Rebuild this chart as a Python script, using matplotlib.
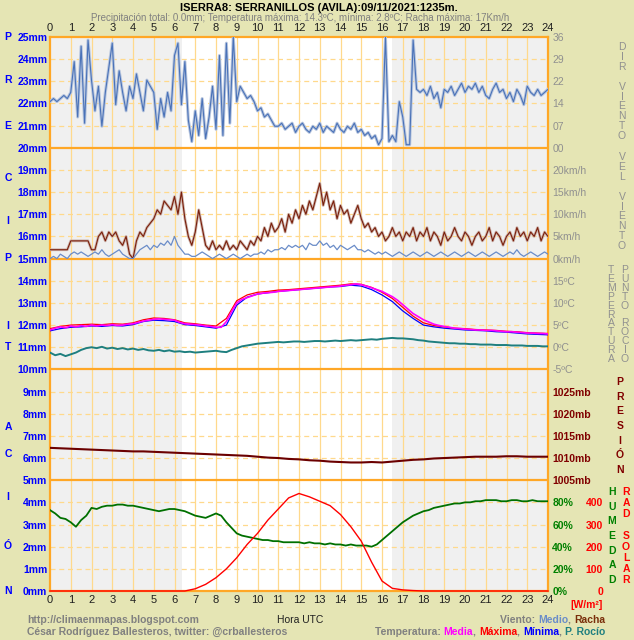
import numpy as np
import matplotlib
matplotlib.use("Agg")
import matplotlib.pyplot as plt
from matplotlib.offsetbox import TextArea, HPacker, AnnotationBbox

plt.rcParams['font.family'] = ['Liberation Sans', 'DejaVu Sans']

##############################
# data
##############################
title = "ISERRA8: SERRANILLOS (AVILA):09/11/2021:1235m."
subtitle = ("Precipitación total: 0.0mm; Temperatura máxima: 14.3ºC, "
            "mínima: 2.8ºC; Racha máxima: 17Km/h")

sunrise, sunset = 6.35, 16.5

hours_10 = np.arange(145) / 6.0   # 10 min steps
hours_15 = np.arange(97) / 4.0    # 15 min steps
hours_30 = np.arange(49) / 2.0    # 30 min steps

# wind direction (tens of degrees, 0-36), 10 min
wind_dir = [15, 16, 15, 16, 17, 16,
            18, 28, 10, 33, 8, 35,
            22, 12, 20, 7, 18, 26,
            34, 14, 25, 18, 12, 20,
            16, 24, 18, 12, 22, 20,
            18, 6, 16, 10, 18, 12,
            30, 34, 14, 28, 9, 2,
            12, 4, 16, 3, 10, 20,
            6, 30, 4, 34, 8, 36,
            15, 20, 18, 16, 17, 15,
            12, 13, 10, 11, 9, 7,
            7, 8, 6, 7, 8, 5,
            7, 8, 6, 5, 7, 6,
            8, 5, 7, 6, 5, 8,
            6, 5, 7, 6, 8, 5,
            6, 4, 5, 3, 4, 1,
            3, 36, 2, 4, 2, 15,
            10, 1, 1, 35, 19, 18,
            19, 17, 20, 16, 18, 13,
            19, 18, 20, 17, 19, 21,
            18, 20, 19, 21, 18, 20,
            17, 16, 19, 21, 18, 19,
            16, 18, 15, 19, 17, 14,
            20, 18, 17, 19, 17, 18,
            19]

# wind gust and mean speed (km/h), 10 min
wind_gust = [2, 2, 2, 2, 2, 2,
             4, 4, 4, 4, 4, 4,
             2, 2, 5, 6, 4, 6,
             5, 6, 4, 3, 5, 1,
             0, 4, 6, 5, 7, 8,
             9, 11, 10, 13, 12, 11,
             14, 10, 15, 9, 5, 3,
             6, 11, 7, 3, 2, 4,
             2, 3, 2, 4, 2, 3,
             2, 4, 3, 2, 4, 3,
             5, 4, 7, 5, 8, 6,
             7, 9, 6, 10, 8, 11,
             9, 12, 10, 13, 11, 14,
             17, 12, 15, 11, 13, 9,
             12, 10, 11, 8, 10, 12,
             9, 7, 8, 6, 7, 5,
             6, 4, 5, 7, 5, 6,
             4, 6, 5, 7, 4, 6,
             5, 7, 4, 6, 5, 3,
             6, 4, 5, 7, 5, 4,
             6, 5, 3, 5, 6, 4,
             5, 7, 4, 6, 5, 3,
             5, 6, 4, 7, 5, 6,
             4, 6, 5, 7, 4, 6,
             5]

wind_mean = [0, 0.5, 0, 1, 0.5, 0,
             1, 1.5, 1, 1.5, 1, 0.5,
             1, 1.5, 1, 2, 1, 0.5,
             1, 1.5, 2, 1, 0.5, 0,
             0, 1, 2, 2.5, 3, 2,
             3, 2.5, 3.5, 3, 4, 3,
             5, 3, 2, 1, 1, 0.5,
             0.5, 1, 1.5, 1, 0.5, 0,
             0.5, 1, 0.5, 0, 0.5, 1,
             0.5, 0, 0.5, 1, 0.5, 1,
             1, 1.5, 1, 2, 1.5, 2,
             2, 2.5, 2, 3, 2.5, 3,
             2.5, 3, 2, 3.5, 3, 3,
             4, 3, 3.5, 2.5, 3, 2,
             3, 2.5, 2, 2.5, 3, 2,
             2, 1.5, 2, 1.5, 1, 1.5,
             1, 1.5, 1, 0.5, 1, 1.5,
             1, 0.5, 1, 1.5, 1, 0.5,
             1, 1.5, 1, 0.5, 1, 1.5,
             1, 0.5, 1, 1.5, 1, 0.5,
             1, 1.5, 1, 0.5, 1, 1.5,
             1, 0.5, 1, 1.5, 1, 0.5,
             1, 1.5, 1, 2, 1, 0.5,
             1, 1.5, 1, 0.5, 1, 1.5,
             1]

# temperature (ºC), 15 min
temp_mean = [3.9, 4.3, 4.6, 4.4, 4.8, 4.6, 4.9, 4.7,
             5.0, 4.8, 5.0, 4.9, 5.1, 4.9, 5.0, 5.2,
             5.3, 5.6, 5.9, 6.1, 6.3, 6.4, 6.3, 6.2,
             6.1, 5.6, 5.3, 5.2, 5.1, 5.0, 4.8, 4.7,
             4.5, 4.5, 5.8, 8.0, 10.0, 10.8, 11.2, 11.6,
             12.0, 12.2, 12.3, 12.4, 12.6, 12.7, 12.8, 12.9,
             13.0, 13.1, 13.2, 13.3, 13.4, 13.5, 13.6, 13.7,
             13.8, 14.0, 14.1, 14.3, 14.1, 13.8, 13.4, 13.0,
             12.6, 12.0, 11.4, 10.6, 9.6, 8.6, 7.6, 6.9,
             6.2, 5.7, 5.2, 4.9, 4.7, 4.5, 4.3, 4.2,
             4.1, 4.0, 3.9, 3.9, 3.8, 3.8, 3.7, 3.6,
             3.5, 3.5, 3.4, 3.3, 3.2, 3.2, 3.1, 3.1,
             3.0]

# max / min temperature (ºC), 30 min
temp_max = [4.2, 4.7, 5.0, 5.1, 5.2, 5.1, 5.3, 5.2, 5.5, 6.2,
            6.6, 6.5, 6.2, 5.5, 5.3, 5.0, 4.8, 6.5, 10.5, 11.8,
            12.4, 12.6, 12.9, 13.0, 13.2, 13.4, 13.6, 13.8, 14.0, 14.3,
            14.2, 13.5, 12.4, 11.0, 9.0, 7.0, 5.5, 4.9, 4.6, 4.3,
            4.2, 4.0, 3.9, 3.8, 3.6, 3.5, 3.3, 3.2, 3.1]
temp_min = [3.7, 4.2, 4.5, 4.6, 4.8, 4.7, 4.9, 4.8, 5.1, 5.8,
            6.1, 6.0, 5.8, 5.1, 4.9, 4.6, 4.3, 5.0, 9.5, 11.3,
            12.0, 12.3, 12.6, 12.8, 13.0, 13.2, 13.4, 13.6, 13.7, 14.0,
            13.8, 13.0, 11.8, 10.3, 8.2, 6.5, 5.0, 4.6, 4.3, 4.1,
            3.9, 3.8, 3.7, 3.5, 3.4, 3.2, 3.0, 2.9, 2.8]

# dew point (ºC), 15 min
dew_point = [-1.2, -1.8, -1.5, -2.0, -1.6, -1.2, -0.6, -0.2,
             0.0, -0.2, 0.1, -0.3, -0.1, -0.4, -0.2, -0.5,
             -0.3, -0.6, -0.4, -0.7, -0.8, -0.6, -0.9, -0.7,
             -1.0, -0.9, -1.1, -1.0, -1.2, -1.1, -1.0, -0.9,
             -0.8, -1.0, -1.1, -0.6, -0.2, 0.2, 0.4, 0.6,
             0.8, 0.9, 1.0, 1.1, 1.2, 1.1, 1.2, 1.3,
             1.3, 1.2, 1.3, 1.4, 1.4, 1.3, 1.4, 1.5,
             1.4, 1.5, 1.6, 1.5, 1.6, 1.7, 1.8, 1.7,
             1.9, 2.0, 2.1, 2.0, 2.0, 1.9, 1.8, 1.6,
             1.5, 1.3, 1.2, 1.1, 1.0, 0.9, 0.9, 0.8,
             0.8, 0.7, 0.7, 0.6, 0.6, 0.6, 0.5, 0.5,
             0.5, 0.4, 0.4, 0.4, 0.3, 0.3, 0.3, 0.2,
             0.2]

# pressure (mb), 30 min
pressure = [1012.3, 1012.2, 1012.1, 1012.0, 1011.9, 1011.8, 1011.7, 1011.6,
            1011.5, 1011.5, 1011.4, 1011.3, 1011.2, 1011.1, 1011.0, 1010.9,
            1010.8, 1010.7, 1010.6, 1010.5, 1010.3, 1010.1, 1010.0, 1009.8,
            1009.7, 1009.5, 1009.4, 1009.2, 1009.1, 1009.0, 1009.0, 1009.1,
            1009.0, 1009.2, 1009.4, 1009.6, 1009.7, 1009.9, 1010.0, 1010.1,
            1010.2, 1010.3, 1010.3, 1010.3, 1010.4, 1010.4, 1010.3, 1010.3,
            1010.3]

# relative humidity (%), 15 min
humidity = [73, 70, 66, 65, 62, 58, 64, 68,
            75, 74, 76, 77, 77, 78, 78, 77,
            77, 76, 75, 74, 73, 72, 73, 74,
            74, 73, 72, 70, 68, 67, 66, 68,
            70, 68, 62, 57, 52, 50, 49, 48,
            47, 46, 46, 45, 45, 44, 44, 44,
            44, 43, 44, 43, 43, 42, 43, 42,
            42, 41, 42, 41, 41, 41, 40, 42,
            46, 50, 54, 58, 62, 65, 68, 70,
            72, 73, 75, 76, 77, 78, 79, 79,
            80, 80, 81, 81, 82, 82, 82, 81,
            81, 82, 82, 81, 81, 82, 81, 81,
            81]

# solar radiation (W/m2), 30 min
radiation = [0, 0, 0, 0, 0, 0, 0, 0, 0, 0, 0, 0, 0, 0,
             10, 30, 60, 100, 150, 210, 260, 320, 370, 420, 440,
             425, 405, 385, 345, 290, 225, 130, 45, 12, 5, 2,
             0, 0, 0, 0, 0, 0, 0, 0, 0, 0, 0, 0, 0]

##############################
BG = '#E5E5B4'
GRID = '#FFD98C'
BAND = '#FFA726'
W, H = 634, 640
FS = 7.5

fig = plt.figure(figsize=(W / 100, H / 100), dpi=100, facecolor=BG)

def fx(px):
    return px / W

def fy(py):
    return 1 - py / H

x0, x1, y_top, y_bot = 50, 548, 37, 591
L, R = fx(x0), fx(x1)
B, T = fy(y_bot), fy(y_top)
bh = (T - B) / 5

# base axes: mm scale, grid, night shading
base = fig.add_axes([L, B, R - L, T - B])
base.set_facecolor('white')
base.set_xlim(0, 24)
base.set_ylim(0, 25)
base.axvspan(0, sunrise, color='#F0F0F0', lw=0)
base.axvspan(sunset, 24, color='#F0F0F0', lw=0)
for h in range(1, 24):
    base.axvline(h, color=GRID, lw=0.9)
for m in range(1, 25):
    if m % 5:
        base.axhline(m, color=GRID, lw=0.9, ls=(0, (4, 3)))
    else:
        base.axhline(m, color=BAND, lw=1.6)
for s in base.spines.values():
    s.set_color(BAND)
    s.set_linewidth(1.6)
base.set_xticks(range(25))
base.set_xticklabels([str(h) for h in range(25)], fontsize=8, color='#202020')
base.tick_params(axis='x', length=0, top=True, labeltop=True, pad=3)
base.set_yticks(range(26))
base.set_yticklabels([f"{m}mm" for m in range(26)], fontsize=FS,
                     color='#0000FF', fontweight='bold')
base.tick_params(axis='y', length=0, pad=2)

def band_axes(k, lo, hi, ticks, labels, color, bold=False):
    ax = fig.add_axes([L, B + k * bh, R - L, bh])
    ax.patch.set_visible(False)
    for s in ax.spines.values():
        s.set_visible(False)
    ax.set_xlim(0, 24)
    ax.set_ylim(lo, hi)
    ax.set_xticks([])
    ax.set_yticks(ticks)
    ax.set_yticklabels(labels, fontsize=FS, color=color,
                       fontweight='bold' if bold else 'normal')
    ax.yaxis.tick_right()
    ax.tick_params(axis='y', length=0, pad=3)
    return ax

# wind direction
ax_dir = band_axes(4, 0, 36, [0, 7.2, 14.4, 21.6, 28.8, 36],
                   ['00', '07', '14', '22', '29', '36'], '#909090')
ax_dir.plot(hours_10, wind_dir, color='#B8C6DE', lw=2.2)
ax_dir.plot(hours_10, wind_dir, color='#4A72B8', lw=0.8)

# wind speed
ax_wind = band_axes(3, 0, 25, [0, 5, 10, 15, 20],
                    ['0km/h', '5km/h', '10km/h', '15km/h', '20km/h'], '#909090')
ax_wind.plot(hours_10, wind_gust, color='#CDB4AC', lw=2.0)
ax_wind.plot(hours_10, wind_gust, color='#7A1E0A', lw=0.8)
ax_wind.plot(hours_10, wind_mean, color='#6A8CC8', lw=0.9)

# temperature / dew point
ax_temp = band_axes(2, -5, 20, [-5, 0, 5, 10, 15],
                    ['-5ºC', '0ºC', '5ºC', '10ºC', '15ºC'], '#909090')
ax_temp.plot(hours_15, dew_point, color='#1E7F7F', lw=1.4)
ax_temp.plot(hours_30, temp_min, color='#0000FF', lw=0.9)
ax_temp.plot(hours_30, temp_max, color='#FF0000', lw=0.9)
ax_temp.plot(hours_15, temp_mean, color='#FF00FF', lw=1.2)

# pressure
ax_pres = band_axes(1, 1005, 1030, [1005, 1010, 1015, 1020, 1025],
                    ['1005mb', '1010mb', '1015mb', '1020mb', '1025mb'],
                    '#800000', bold=True)
ax_pres.plot(hours_30, pressure, color='#6B0000', lw=1.5)

# humidity + radiation
ax_hum = band_axes(0, 0, 100, [0, 20, 40, 60, 80],
                   ['0%', '20%', '40%', '60%', '80%'], '#008000', bold=True)
ax_hum.plot(hours_15, humidity, color='#007000', lw=1.3)
ax_rad = ax_hum.twinx()
ax_hum.yaxis.tick_right()
ax_hum.tick_params(axis='y', length=0, pad=3)
for s in ax_rad.spines.values():
    s.set_visible(False)
ax_rad.set_ylim(0, 500)
ax_rad.set_yticks([0, 100, 200, 300, 400])
ax_rad.set_yticklabels(['0', '100', '200', '300', '400'], fontsize=FS,
                       color='#FF0000', fontweight='bold')
for lab in ax_rad.get_yticklabels():
    lab.set_horizontalalignment('right')
ax_rad.yaxis.tick_right()
ax_rad.tick_params(axis='y', length=0, pad=(603 - x1) * 0.72)
ax_rad.plot(hours_30, radiation, color='#FF0000', lw=1.0, clip_on=False)

# titles
fig.text(fx(319), fy(8), title, ha='center', va='center', fontsize=8,
         fontweight='bold', color='black')
fig.text(fx(300), fy(18), subtitle, ha='center', va='center', fontsize=7,
         color='#808080')

# vertical letter labels
def vlabel(text, x, y0, step, color, bold=False, size=FS):
    for i, ch in enumerate(text):
        if ch != ' ':
            fig.text(fx(x), fy(y0 + i * step), ch, ha='center', va='center',
                     fontsize=size, color=color,
                     fontweight='bold' if bold else 'normal')

left_y = [37, 80, 126, 178, 221, 258, 326, 347, 427, 454, 497, 546, 591]
for ch, yy in zip("PRECIPITACIÓN", left_y):
    fig.text(fx(8), fy(yy), ch, ha='center', va='center', fontsize=FS,
             color='#0000FF', fontweight='bold')

vlabel("DIR VIENTO", 622, 47, 9.9, '#909090')
vlabel("VEL VIENTO", 622, 157, 9.9, '#909090')
vlabel("TEMPERATURA", 611, 270, 8.9, '#909090')
vlabel("PUNTO ROCIO", 625, 270, 8.9, '#909090')
vlabel("PRESIÓN", 620, 382, 14.7, '#800000', bold=True)
vlabel("HUMEDAD", 612, 492, 14.7, '#008000', bold=True)
vlabel("RAD SOLAR", 626, 492, 11.0, '#FF0000', bold=True)

fig.text(fx(603), fy(605), "[W/m²]", ha='right', va='center', fontsize=FS,
         color='#FF0000', fontweight='bold')

# footer
fig.text(fx(300), fy(620), "Hora UTC", ha='center', va='center',
         fontsize=FS, color='#202020')
fig.text(fx(27), fy(620), "http://climaenmapas.blogspot.com", ha='left',
         va='center', fontsize=FS, color='#808080', fontweight='bold')
fig.text(fx(27), fy(632), "César Rodríguez Ballesteros, twitter: @crballesteros",
         ha='left', va='center', fontsize=FS, color='#808080', fontweight='bold')

def colored_line(parts, x, y):
    boxes = [TextArea(t, textprops=dict(color=c, fontsize=FS, fontweight='bold'))
             for t, c in parts]
    pack = HPacker(children=boxes, align='baseline', pad=0, sep=0)
    ab = AnnotationBbox(pack, (x, H - y), xycoords='figure pixels',
                        box_alignment=(1, 0.5), frameon=False)
    fig.add_artist(ab)

colored_line([("Viento: ", '#808080'), ("Medio", '#6A8CC8'), (", ", '#808080'),
              ("Racha", '#7A2E0A')], 605, 620)
colored_line([("Temperatura: ", '#808080'), ("Media", '#FF00FF'), (", ", '#808080'),
              ("Máxima", '#FF0000'), (", ", '#808080'), ("Mínima", '#0000FF'),
              (", ", '#808080'), ("P. Rocío", '#1E7F7F')], 605, 632)

fig.savefig("out.png", dpi=100, facecolor=BG)
